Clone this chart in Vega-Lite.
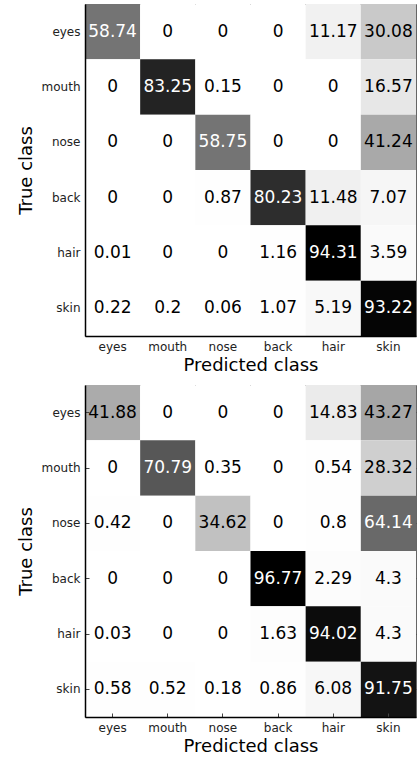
{
  "$schema": "https://vega.github.io/schema/vega-lite/v6.json",
  "padding": {"left": 16, "top": 3, "right": 0, "bottom": 0},
  "background": "white",
  "config": {
    "font": "DejaVu Sans",
    "view": {"stroke": "#666666", "strokeWidth": 1},
    "axis": {
      "grid": false,
      "labelFont": "DejaVu Sans",
      "titleFont": "DejaVu Sans",
      "labelFontSize": 12,
      "labelColor": "#222222",
      "titleFontSize": 18,
      "titleFontWeight": "normal",
      "titleColor": "#000000",
      "domainColor": "#000000",
      "domainWidth": 1.5,
      "tickColor": "#444444"
    }
  },
  "datasets": {
    "a": [
      {"t": "eyes", "p": "eyes", "v": 58.74}, {"t": "eyes", "p": "mouth", "v": 0}, {"t": "eyes", "p": "nose", "v": 0}, {"t": "eyes", "p": "back", "v": 0}, {"t": "eyes", "p": "hair", "v": 11.17}, {"t": "eyes", "p": "skin", "v": 30.08},
      {"t": "mouth", "p": "eyes", "v": 0}, {"t": "mouth", "p": "mouth", "v": 83.25}, {"t": "mouth", "p": "nose", "v": 0.15}, {"t": "mouth", "p": "back", "v": 0}, {"t": "mouth", "p": "hair", "v": 0}, {"t": "mouth", "p": "skin", "v": 16.57},
      {"t": "nose", "p": "eyes", "v": 0}, {"t": "nose", "p": "mouth", "v": 0}, {"t": "nose", "p": "nose", "v": 58.75}, {"t": "nose", "p": "back", "v": 0}, {"t": "nose", "p": "hair", "v": 0}, {"t": "nose", "p": "skin", "v": 41.24},
      {"t": "back", "p": "eyes", "v": 0}, {"t": "back", "p": "mouth", "v": 0}, {"t": "back", "p": "nose", "v": 0.87}, {"t": "back", "p": "back", "v": 80.23}, {"t": "back", "p": "hair", "v": 11.48}, {"t": "back", "p": "skin", "v": 7.07},
      {"t": "hair", "p": "eyes", "v": 0.01}, {"t": "hair", "p": "mouth", "v": 0}, {"t": "hair", "p": "nose", "v": 0}, {"t": "hair", "p": "back", "v": 1.16}, {"t": "hair", "p": "hair", "v": 94.31}, {"t": "hair", "p": "skin", "v": 3.59},
      {"t": "skin", "p": "eyes", "v": 0.22}, {"t": "skin", "p": "mouth", "v": 0.2}, {"t": "skin", "p": "nose", "v": 0.06}, {"t": "skin", "p": "back", "v": 1.07}, {"t": "skin", "p": "hair", "v": 5.19}, {"t": "skin", "p": "skin", "v": 93.22}
    ],
    "b": [
      {"t": "eyes", "p": "eyes", "v": 41.88}, {"t": "eyes", "p": "mouth", "v": 0}, {"t": "eyes", "p": "nose", "v": 0}, {"t": "eyes", "p": "back", "v": 0}, {"t": "eyes", "p": "hair", "v": 14.83}, {"t": "eyes", "p": "skin", "v": 43.27},
      {"t": "mouth", "p": "eyes", "v": 0}, {"t": "mouth", "p": "mouth", "v": 70.79}, {"t": "mouth", "p": "nose", "v": 0.35}, {"t": "mouth", "p": "back", "v": 0}, {"t": "mouth", "p": "hair", "v": 0.54}, {"t": "mouth", "p": "skin", "v": 28.32},
      {"t": "nose", "p": "eyes", "v": 0.42}, {"t": "nose", "p": "mouth", "v": 0}, {"t": "nose", "p": "nose", "v": 34.62}, {"t": "nose", "p": "back", "v": 0}, {"t": "nose", "p": "hair", "v": 0.8}, {"t": "nose", "p": "skin", "v": 64.14},
      {"t": "back", "p": "eyes", "v": 0}, {"t": "back", "p": "mouth", "v": 0}, {"t": "back", "p": "nose", "v": 0}, {"t": "back", "p": "back", "v": 96.77}, {"t": "back", "p": "hair", "v": 2.29}, {"t": "back", "p": "skin", "v": 4.3},
      {"t": "hair", "p": "eyes", "v": 0.03}, {"t": "hair", "p": "mouth", "v": 0}, {"t": "hair", "p": "nose", "v": 0}, {"t": "hair", "p": "back", "v": 1.63}, {"t": "hair", "p": "hair", "v": 94.02}, {"t": "hair", "p": "skin", "v": 4.3},
      {"t": "skin", "p": "eyes", "v": 0.58}, {"t": "skin", "p": "mouth", "v": 0.52}, {"t": "skin", "p": "nose", "v": 0.18}, {"t": "skin", "p": "back", "v": 0.86}, {"t": "skin", "p": "hair", "v": 6.08}, {"t": "skin", "p": "skin", "v": 91.75}
    ]
  },
  "spacing": 49,
  "bounds": "flush",
  "resolve": {"scale": {"color": "independent"}},
  "vconcat": [
    {
      "data": {"name": "a"},
      "width": 331,
      "height": 332,
      "encoding": {
        "x": {"field": "p", "type": "nominal", "sort": ["eyes", "mouth", "nose", "back", "hair", "skin"], "axis": {"title": "Predicted class", "labelAngle": 0, "ticks": false, "labelPadding": 5, "titlePadding": 4}},
        "y": {"field": "t", "type": "nominal", "sort": ["eyes", "mouth", "nose", "back", "hair", "skin"], "axis": {"title": "True class", "ticks": false, "labelPadding": 5, "titlePadding": 6}}
      },
      "layer": [
        {"mark": {"type": "rect"}, "encoding": {"color": {"field": "v", "type": "quantitative", "scale": {"domain": [0, 11.789, 23.578, 35.366, 47.155, 58.944, 70.733, 82.521, 94.31], "range": ["#ffffff", "#f0f0f0", "#d9d9d9", "#bdbdbd", "#969696", "#737373", "#525252", "#252525", "#000000"]}, "legend": null}}},
        {"mark": {"type": "text", "fontSize": 17, "font": "DejaVu Sans"}, "encoding": {"text": {"field": "v", "type": "nominal"}, "color": {"condition": {"test": "datum.v > 50", "value": "#ffffff"}, "value": "#000000"}}}
      ]
    },
    {
      "data": {"name": "b"},
      "width": 331,
      "height": 332,
      "encoding": {
        "x": {"field": "p", "type": "nominal", "sort": ["eyes", "mouth", "nose", "back", "hair", "skin"]},
        "y": {"field": "t", "type": "nominal", "sort": ["eyes", "mouth", "nose", "back", "hair", "skin"]}
      },
      "resolve": {"axis": {"x": "independent", "y": "independent"}},
      "layer": [
        {
          "mark": {"type": "rect"},
          "encoding": {
            "x": {"field": "p", "type": "nominal", "sort": ["eyes", "mouth", "nose", "back", "hair", "skin"], "axis": {"title": "Predicted class", "labelAngle": 0, "ticks": true, "tickSize": -4, "labelPadding": 9, "titlePadding": 4}},
            "y": {"field": "t", "type": "nominal", "sort": ["eyes", "mouth", "nose", "back", "hair", "skin"], "axis": {"title": "True class", "ticks": true, "tickSize": -4, "labelPadding": 9, "titlePadding": 6}},
            "color": {"field": "v", "type": "quantitative", "scale": {"domain": [0, 12.096, 24.193, 36.289, 48.385, 60.481, 72.578, 84.674, 96.77], "range": ["#ffffff", "#f0f0f0", "#d9d9d9", "#bdbdbd", "#969696", "#737373", "#525252", "#252525", "#000000"]}, "legend": null}
          }
        },
        {
          "mark": {"type": "text", "fontSize": 17, "font": "DejaVu Sans"},
          "encoding": {
            "x": {"field": "p", "type": "nominal", "sort": ["eyes", "mouth", "nose", "back", "hair", "skin"], "axis": {"orient": "top", "title": null, "labels": false, "domain": false, "ticks": true, "tickSize": -4}},
            "y": {"field": "t", "type": "nominal", "sort": ["eyes", "mouth", "nose", "back", "hair", "skin"], "axis": {"orient": "right", "title": null, "labels": false, "domain": false, "ticks": true, "tickSize": -4}},
            "text": {"field": "v", "type": "nominal"},
            "color": {"condition": {"test": "datum.v > 50", "value": "#ffffff"}, "value": "#000000"}
          }
        }
      ]
    }
  ]
}
